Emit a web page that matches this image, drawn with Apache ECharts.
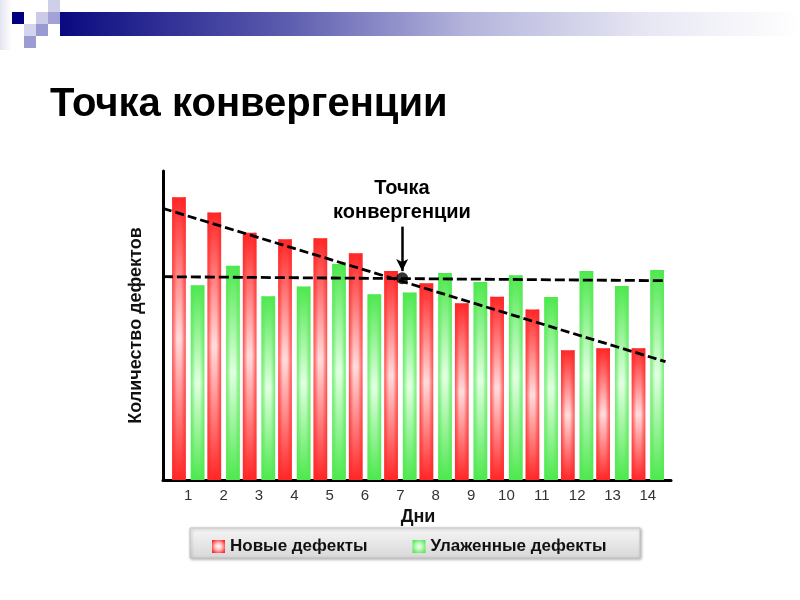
<!DOCTYPE html>
<html>
<head>
<meta charset="utf-8">
<script src="https://cdn.jsdelivr.net/npm/echarts@6/dist/echarts.min.js"></script>
<style>html,body{margin:0;padding:0;background:#fff}#c{width:800px;height:600px}</style>
</head>
<body>
<div id="c"></div>
<script>
// ---- data ----
const days = ['1','2','3','4','5','6','7','8','9','10','11','12','13','14'];
const newDefects = [91.5, 86.6, 80.0, 77.9, 78.2, 73.4, 67.6, 63.7, 57.2, 59.3, 55.2, 42.0, 42.6, 42.6];
const fixedDefects = [63.0, 69.3, 59.5, 62.6, 69.9, 60.1, 60.7, 67.0, 64.1, 66.3, 59.2, 67.6, 62.8, 68.0];
const trendNew = [[0.28, 87.9], [14.5, 38.3]];
const trendFixed = [[0.28, 65.8], [14.5, 64.5]];
const convergencePoint = [[7.05, 65.3]];
const arrowFrom = [7.05, 82.0];
const arrowTo = [7.05, 67.6];
const seriesNames = ['Новые дефекты', 'Улаженные дефекты'];
const titleText = 'Точка конвергенции';
const noteText = 'Точка\nконвергенции';
const xName = 'Дни';
const yName = 'Количество дефектов';

const FONT = '"Liberation Sans", Arial, sans-serif';
const chart = echarts.init(document.getElementById('c'));

function vgrad(edge, mid) {
  return {type:'linear', x:0, y:0, x2:0, y2:1, colorStops:[
    {offset:0, color:edge},{offset:0.5, color:mid},{offset:1, color:edge}]};
}
function hgrad(rgb) {
  return {type:'linear', x:0, y:0, x2:1, y2:0, colorStops:[
    {offset:0, color:'rgba('+rgb+',0.75)'},
    {offset:0.35, color:'rgba('+rgb+',0)'},
    {offset:0.65, color:'rgba('+rgb+',0)'},
    {offset:1, color:'rgba('+rgb+',0.75)'}]};
}
const BW = 13.6, BG = '37%';

chart.setOption({
  animation: false,
  backgroundColor: '#fff',
  title: {
    text: titleText, left: 45, top: 80,
    textStyle: {fontFamily: FONT, fontSize: 40, fontWeight: 'bold', color: '#000'}
  },
  legend: {
    data: [
      {name: seriesNames[0], itemStyle: {color: {type:'radial', x:0.5, y:0.5, r:0.6, colorStops:[{offset:0,color:'#ffffff'},{offset:0.45,color:'#ffc0c0'},{offset:1,color:'#ff2a2a'}]}}},
      {name: seriesNames[1], itemStyle: {color: {type:'radial', x:0.5, y:0.5, r:0.6, colorStops:[{offset:0,color:'#f0fff0'},{offset:0.45,color:'#b8f8b8'},{offset:1,color:'#55e855'}]}}}
    ],
    left: 212, top: 538, padding: 0, itemGap: 45, itemWidth: 13, itemHeight: 13, icon: 'rect',
    textStyle: {fontFamily: FONT, fontSize: 17, fontWeight: 'bold', color: '#111'},
    selectedMode: false
  },
  graphic: [
    // header decoration
    {type:'rect', z:0, shape:{x:0,y:0,width:12,height:50}, style:{fill:{type:'linear',x:0,y:0,x2:1,y2:0,colorStops:[{offset:0,color:'#e4e4f2'},{offset:1,color:'#ffffff'}]}}},
    {type:'rect', z:0, shape:{x:60,y:12,width:740,height:24}, style:{fill:{type:'linear',x:0,y:0,x2:1,y2:0,colorStops:[
      {offset:0,color:'#0a0a80'},{offset:0.3,color:'#5a5aae'},{offset:0.55,color:'#b4b4dc'},{offset:0.8,color:'#e8e8f4'},{offset:1,color:'#ffffff'}]}}},
    {type:'rect', z:0, shape:{x:12,y:12,width:12,height:12}, style:{fill:'#000080'}},
    {type:'rect', z:0, shape:{x:48,y:0,width:12,height:12}, style:{fill:'#cfcfe9'}},
    {type:'rect', z:0, shape:{x:36,y:12,width:12,height:12}, style:{fill:'#cbcbe8'}},
    {type:'rect', z:0, shape:{x:48,y:12,width:12,height:12}, style:{fill:'#a2a2d6'}},
    {type:'rect', z:0, shape:{x:24,y:24,width:12,height:12}, style:{fill:'#d4d4ec'}},
    {type:'rect', z:0, shape:{x:36,y:24,width:12,height:12}, style:{fill:'#9a9ad2'}},
    {type:'rect', z:0, shape:{x:24,y:36,width:12,height:12}, style:{fill:'#9c9cd2'}},
    // legend box
    {type:'rect', z:0, shape:{x:190,y:528,width:450,height:30}, style:{
      fill:{type:'linear',x:0,y:0,x2:0,y2:1,colorStops:[{offset:0,color:'#f6f6f6'},{offset:1,color:'#d8d8d8'}]},
      stroke:'#c4c4c4', lineWidth:1, shadowBlur:3, shadowOffsetX:1, shadowOffsetY:1, shadowColor:'rgba(0,0,0,0.3)'}},
    // annotation text
    {type:'text', z:10, style:{text: noteText, x: 402, y: 176, textAlign:'center', textVerticalAlign:'top', fontFamily: FONT, fontSize: 20, fontWeight:'bold', lineHeight: 24, fill:'#000'}}
  ],
  grid: [
    {left: 170.6, right: 134.5, top: 171, bottom: 120, containLabel: false},
    {left: 163, right: 129, top: 171, bottom: 120, containLabel: false}
  ],
  xAxis: [
    {type:'category', gridIndex:0, data: days, axisLine:{show:false}, axisTick:{show:false},
     axisLabel:{margin: 8, fontFamily: FONT, fontSize: 15, color:'#333'},
     name: xName, nameLocation:'middle', nameGap: 26,
     nameTextStyle:{fontFamily: FONT, fontSize: 18, fontWeight:'bold', color:'#111'}},
    {type:'category', gridIndex:0, data: days, show:false},
    {type:'value', gridIndex:1, min: 0.284, max: 14.655, axisLine:{show:true, lineStyle:{color:'#000', width:3}},
     axisTick:{show:false}, axisLabel:{show:false}, splitLine:{show:false}}
  ],
  yAxis: [
    {type:'value', gridIndex:0, min:0, max:100, show:false},
    {type:'value', gridIndex:1, min:0, max:100, axisLine:{show:true, lineStyle:{color:'#000', width:3}},
     axisTick:{show:false}, axisLabel:{show:false}, splitLine:{show:false},
     name: yName, nameLocation:'middle', nameGap: 18,
     nameTextStyle:{fontFamily: FONT, fontSize: 18, fontWeight:'bold', color:'#111'}}
  ],
  series: [
    {name: seriesNames[0], type:'bar', xAxisIndex:0, yAxisIndex:0, data:newDefects, barWidth:BW, barGap:BG,
     itemStyle:{color: vgrad('#ff2626', '#ffdcdc')}},
    {name: seriesNames[1], type:'bar', xAxisIndex:0, yAxisIndex:0, data:fixedDefects, barWidth:BW, barGap:BG,
     itemStyle:{color: vgrad('#4ee84e', '#e2ffe2')}},
    {name: 'ov1', type:'bar', xAxisIndex:1, yAxisIndex:0, data:newDefects, barWidth:BW, barGap:BG, silent:true,
     itemStyle:{color: hgrad('255,38,38')}},
    {name: 'ov2', type:'bar', xAxisIndex:1, yAxisIndex:0, data:fixedDefects, barWidth:BW, barGap:BG, silent:true,
     itemStyle:{color: hgrad('78,232,78')}},
    {name: 'trendNew', type:'line', xAxisIndex:2, yAxisIndex:1, data: trendNew, symbol:'none', z:5,
     lineStyle:{color:'#000', width:2.8, type:[9,4]}},
    {name: 'trendFixed', type:'line', xAxisIndex:2, yAxisIndex:1, data: trendFixed, symbol:'none', z:5,
     lineStyle:{color:'#000', width:2.8, type:[10,4]}},
    {name: 'point', type:'scatter', xAxisIndex:2, yAxisIndex:1, data: convergencePoint, symbol:'circle', symbolSize:12, z:6,
     itemStyle:{color:'#000'},
     markLine:{silent:true, symbol:['none','arrow'], symbolSize:[9,12], label:{show:false},
       lineStyle:{color:'#000', width:2.5, type:'solid'},
       data:[[{coord: arrowFrom}, {coord: arrowTo}]]}}
  ]
});
</script>
</body>
</html>
